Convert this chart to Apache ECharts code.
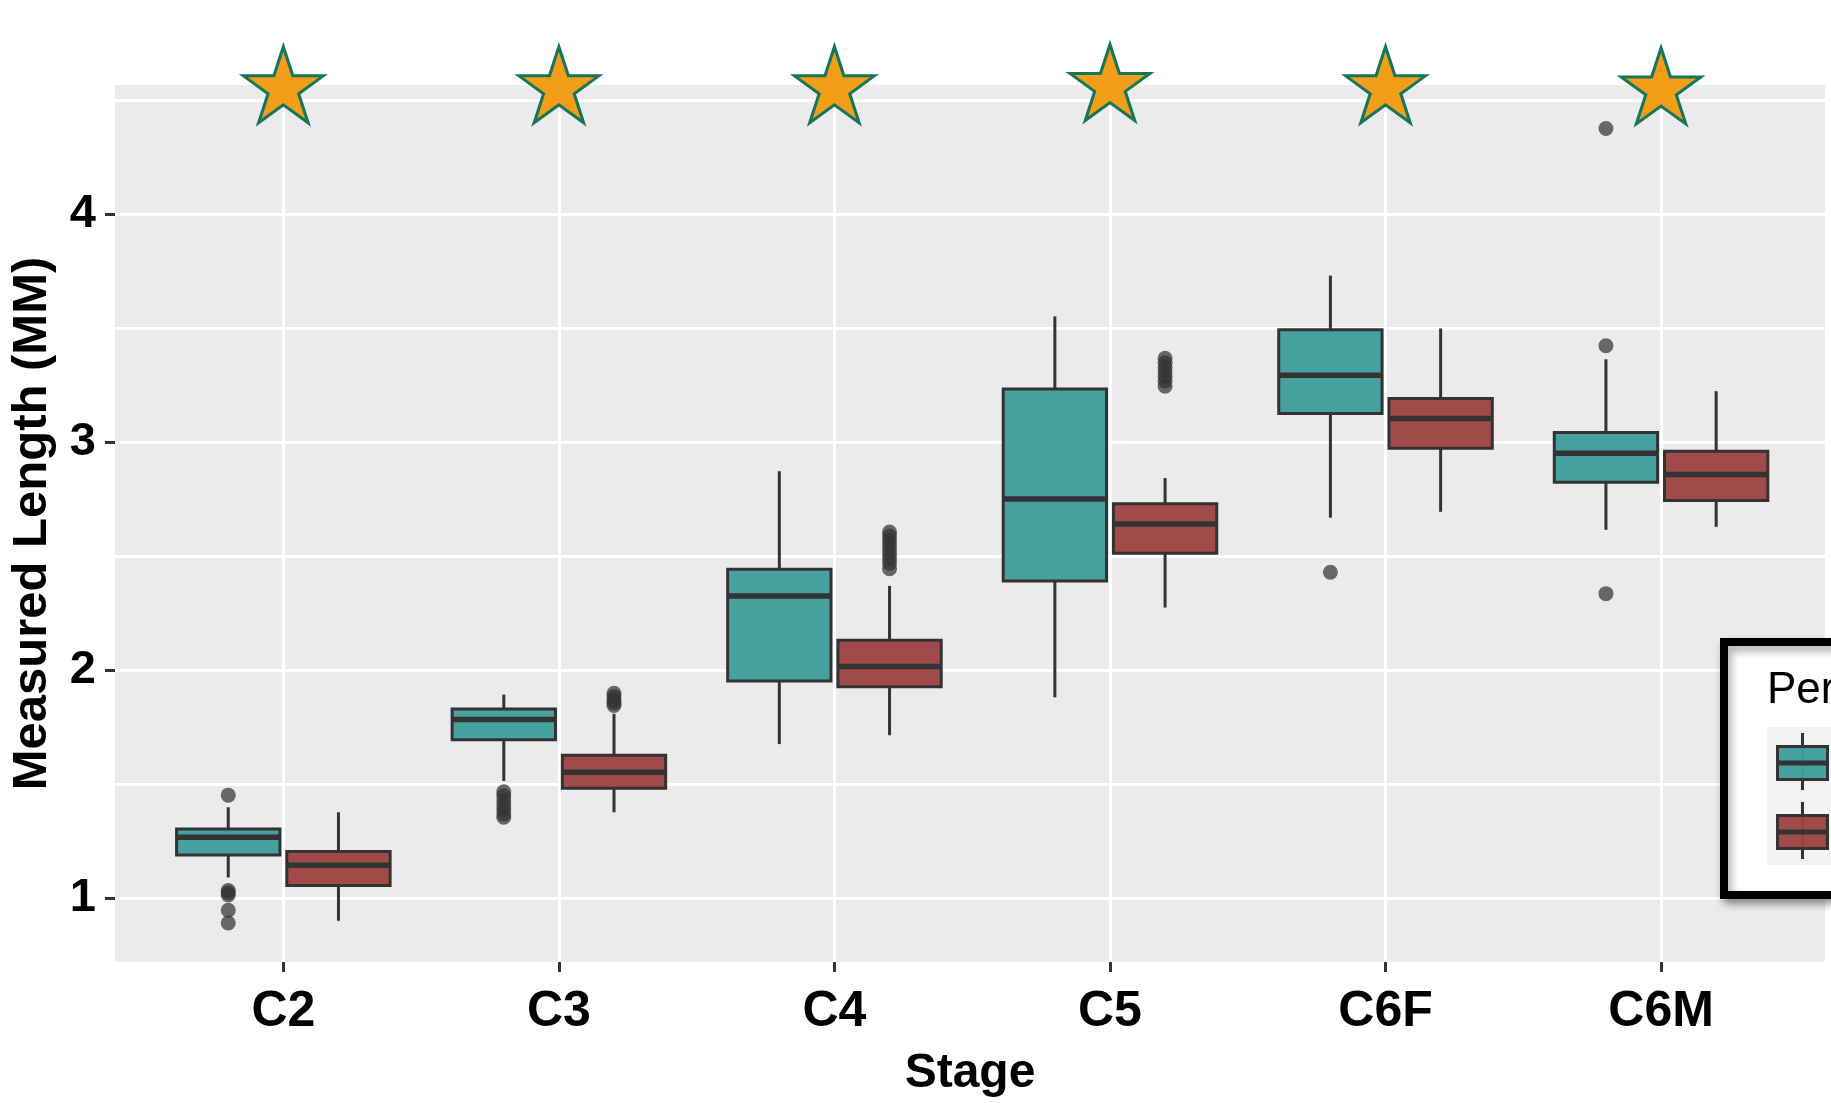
<!DOCTYPE html>
<html>
<head>
<meta charset="utf-8">
<script src="https://cdn.jsdelivr.net/npm/echarts@6/dist/echarts.min.js"></script>
<style>
  html, body { margin: 0; padding: 0; background: #fff; }
  #chart { width: 1831px; height: 1103px; }
</style>
</head>
<body>
<div id="chart"></div>
<script>
// ---------------- data ----------------
const categories = ['C2', 'C3', 'C4', 'C5', 'C6F', 'C6M'];
const yTickLabels = [1, 2, 3, 4];
const yMinorLines = [1.5, 2.5, 3.5, 4.5];

// box statistics per stage: [lower whisker, Q1, median, Q3, upper whisker]
const tealStats = [
  [1.092, 1.190, 1.268, 1.305, 1.400],
  [1.515, 1.696, 1.785, 1.831, 1.894],
  [1.677, 1.954, 2.327, 2.444, 2.874],
  [1.882, 2.392, 2.752, 3.235, 3.553],
  [2.670, 3.127, 3.295, 3.494, 3.732],
  [2.617, 2.825, 2.953, 3.044, 3.365]
];
const redStats = [
  [0.902, 1.057, 1.146, 1.206, 1.378],
  [1.378, 1.483, 1.553, 1.628, 1.810],
  [1.716, 1.928, 2.017, 2.132, 2.371],
  [2.276, 2.514, 2.642, 2.731, 2.844],
  [2.696, 2.975, 3.105, 3.193, 3.500],
  [2.630, 2.746, 2.860, 2.961, 3.225]
];
// outliers per stage
const tealOutliers = [
  [1.453, 1.035, 1.025, 1.015, 0.948, 0.892],
  [1.468, 1.450, 1.430, 1.410, 1.390, 1.370, 1.356],
  [],
  [],
  [2.431],
  [4.377, 3.424, 2.337]
];
const redOutliers = [
  [],
  [1.900, 1.885, 1.870, 1.858, 1.846],
  [2.607, 2.590, 2.570, 2.550, 2.530, 2.510, 2.490, 2.470, 2.446],
  [3.369, 3.350, 3.330, 3.310, 3.290, 3.270, 3.247],
  [],
  []
];
// significance stars per stage
const starValues = [4.569, 4.569, 4.569, 4.579, 4.569, 4.564];

// ---------------- layout / style ----------------
const FONT = "'Liberation Sans', Arial, Helvetica, sans-serif";
const BOX_W = 0.375;
const DODGE = 0.2;
const TEAL = 'rgba(62,157,155,0.96)';
const RED = 'rgba(157,67,67,0.96)';
const EDGE = '#333333';
const STAR_PATH = 'path://M50,0 L61.23,34.55 L97.55,34.55 L68.16,55.9 L79.39,90.45 L50,69.1 L20.61,90.45 L31.84,55.9 L2.45,34.55 L38.77,34.55 Z';

function boxRenderer(offset, fill) {
  return function (params, api) {
    const x = api.value(0) + offset;
    const low = api.coord([x, api.value(1)]);
    const q1 = api.coord([x, api.value(2)]);
    const med = api.coord([x, api.value(3)]);
    const q3 = api.coord([x, api.value(4)]);
    const high = api.coord([x, api.value(5)]);
    const hw = api.size([BOX_W, 0])[0] / 2;
    const ls = { stroke: EDGE, lineWidth: 3 };
    return {
      type: 'group',
      children: [
        { type: 'line', shape: { x1: high[0], y1: high[1], x2: q3[0], y2: q3[1] }, style: ls },
        { type: 'line', shape: { x1: q1[0], y1: q1[1], x2: low[0], y2: low[1] }, style: ls },
        { type: 'rect', shape: { x: q3[0] - hw, y: q3[1], width: 2 * hw, height: q1[1] - q3[1] },
          style: { fill: fill, stroke: EDGE, lineWidth: 3 } },
        { type: 'line', shape: { x1: med[0] - hw, y1: med[1], x2: med[0] + hw, y2: med[1] },
          style: { stroke: EDGE, lineWidth: 5.5 } }
      ]
    };
  };
}

function boxData(stats) { return stats.map((s, i) => [i + 1].concat(s)); }
function outlierData(outs, offset) {
  const d = [];
  outs.forEach((arr, i) => arr.forEach(v => d.push([i + 1 + offset, v])));
  return d;
}

const chart = echarts.init(document.getElementById('chart'), null, { renderer: 'canvas' });

const Y_MIN = 0.7212, Y_MAX = 4.568;

const option = {
  animation: false,
  backgroundColor: '#ffffff',
  grid: {
    left: 115, right: 6, top: 85, bottom: 139,
    show: true, backgroundColor: '#EBEBEB', borderWidth: 0
  },
  xAxis: {
    type: 'value', min: 0.389, max: 6.595,
    name: 'Stage', nameLocation: 'middle', nameGap: 88,
    nameTextStyle: { fontFamily: FONT, fontWeight: 'bold', fontSize: 48, color: '#000' },
    axisLine: { show: false },
    axisTick: { show: true, customValues: [1, 2, 3, 4, 5, 6], length: 10, lineStyle: { color: EDGE, width: 3 } },
    axisLabel: {
      customValues: [1, 2, 3, 4, 5, 6], margin: 25,
      fontFamily: FONT, fontWeight: 'bold', fontSize: 50, color: '#000',
      formatter: v => categories[Math.round(v) - 1]
    },
    splitLine: { show: true, lineStyle: { color: '#ffffff', width: 3 } }
  },
  yAxis: [
    {
      type: 'value', min: Y_MIN, max: Y_MAX,
      name: 'Measured Length (MM)', nameLocation: 'middle', nameGap: 58, nameRotate: 90,
      nameTextStyle: { fontFamily: FONT, fontWeight: 'bold', fontSize: 49, color: '#000' },
      axisLine: { show: false },
      axisTick: { show: true, customValues: yTickLabels, length: 10, lineStyle: { color: EDGE, width: 3 } },
      axisLabel: {
        customValues: yTickLabels, margin: 19,
        fontFamily: FONT, fontWeight: 'bold', fontSize: 47, color: '#000'
      },
      splitLine: { show: true, lineStyle: { color: '#ffffff', width: 3 } }
    },
    {
      type: 'value', min: Y_MIN, max: Y_MAX, position: 'right',
      axisLine: { show: false },
      axisTick: { show: false, customValues: yMinorLines },
      axisLabel: { show: false },
      splitLine: { show: true, lineStyle: { color: '#ffffff', width: 3 } }
    }
  ],
  series: [
    {
      name: 'Teal', type: 'custom', renderItem: boxRenderer(-DODGE, TEAL),
      encode: { x: 0, y: [1, 2, 3, 4, 5] }, data: boxData(tealStats), z: 2
    },
    {
      name: 'Red', type: 'custom', renderItem: boxRenderer(DODGE, RED),
      encode: { x: 0, y: [1, 2, 3, 4, 5] }, data: boxData(redStats), z: 2
    },
    {
      name: 'Teal outliers', type: 'scatter', symbol: 'circle', symbolSize: 15,
      itemStyle: { color: 'rgba(51,51,51,0.72)', opacity: 1 }, data: outlierData(tealOutliers, -DODGE), z: 3
    },
    {
      name: 'Red outliers', type: 'scatter', symbol: 'circle', symbolSize: 15,
      itemStyle: { color: 'rgba(51,51,51,0.72)', opacity: 1 }, data: outlierData(redOutliers, DODGE), z: 3
    },
    {
      name: 'Stars', type: 'scatter', symbol: STAR_PATH, symbolSize: [80, 76], clip: false,
      itemStyle: { color: '#F29E19', borderColor: '#17765A', borderWidth: 3, opacity: 1 },
      data: starValues.map((v, i) => [i + 1, v]), z: 4
    }
  ],
  graphic: [
    {
      type: 'rect', z: 100,
      shape: { x: 1724, y: 642, width: 220, height: 253 },
      style: { fill: '#ffffff', stroke: '#000000', lineWidth: 8,
               shadowBlur: 8, shadowOffsetX: 3, shadowOffsetY: 5, shadowColor: 'rgba(0,0,0,0.35)' }
    },
    {
      type: 'text', z: 101,
      style: { x: 1767, y: 691, text: 'Period', font: '44px ' + FONT, fill: '#000', textVerticalAlign: 'middle' }
    },
    { type: 'rect', z: 101, shape: { x: 1767, y: 727, width: 120, height: 138 }, style: { fill: '#F2F2F2' } },
    // teal key
    { type: 'line', z: 102, shape: { x1: 1802.5, y1: 733, x2: 1802.5, y2: 790 }, style: { stroke: EDGE, lineWidth: 3 } },
    { type: 'rect', z: 103, shape: { x: 1777.5, y: 746.5, width: 50, height: 33 }, style: { fill: TEAL, stroke: EDGE, lineWidth: 3 } },
    { type: 'line', z: 104, shape: { x1: 1777.5, y1: 763, x2: 1827.5, y2: 763 }, style: { stroke: EDGE, lineWidth: 5 } },
    // red key
    { type: 'line', z: 102, shape: { x1: 1802.5, y1: 802, x2: 1802.5, y2: 859 }, style: { stroke: EDGE, lineWidth: 3 } },
    { type: 'rect', z: 103, shape: { x: 1777.5, y: 815.5, width: 50, height: 33 }, style: { fill: RED, stroke: EDGE, lineWidth: 3 } },
    { type: 'line', z: 104, shape: { x1: 1777.5, y1: 832, x2: 1827.5, y2: 832 }, style: { stroke: EDGE, lineWidth: 5 } }
  ]
};

chart.setOption(option);
</script>
</body>
</html>
